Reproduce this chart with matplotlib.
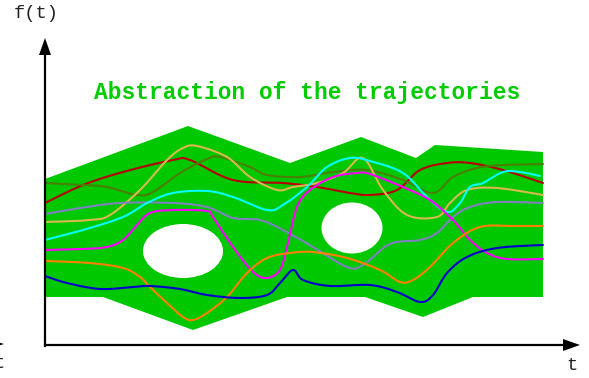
import numpy as np
import matplotlib
matplotlib.use("Agg")
import matplotlib.pyplot as plt
from matplotlib.patches import Polygon, Ellipse

# ---- data (pixel coordinates) ----
band_x = [45, 188, 290, 361, 416, 435, 543, 543, 473, 423, 365, 287, 193, 103, 45]
band_y = [179, 126, 163, 137, 158, 145, 152, 297, 297, 317, 297, 297, 330, 297, 297]

holes_cx = [183, 352]
holes_cy = [251, 228]
holes_w = [80, 61]
holes_h = [54, 51]

red_x = [45, 83, 123, 173, 190, 233, 283, 317, 350, 370, 397, 420, 447, 470, 503, 543]
red_y = [203, 185, 172, 160, 160, 180, 183, 187, 193, 195, 190, 170, 163, 163, 170, 183]

dgreen_x = [45, 83, 107, 137, 153, 180, 207, 220, 250, 267, 300, 333, 367, 403, 433, 453, 477, 503, 543]
dgreen_y = [183, 185, 187, 195, 192, 173, 159, 157, 167, 175, 177, 172, 170, 180, 193, 177, 168, 165, 164]

gold_x = [45, 90, 110, 140, 167, 183, 197, 227, 250, 277, 293, 317, 343, 363, 383, 407, 437, 450, 467, 497, 543]
gold_y = [222, 220, 215, 190, 160, 148, 146, 157, 177, 190, 187, 183, 173, 158, 190, 215, 217, 203, 190, 188, 195]

cyan_x = [45, 83, 123, 147, 173, 207, 233, 267, 283, 307, 327, 350, 370, 403, 427, 447, 460, 470, 483, 503, 520, 540]
cyan_y = [240, 230, 217, 203, 193, 191, 197, 210, 205, 187, 167, 158, 161, 173, 197, 212, 203, 187, 183, 172, 172, 176]

gray_x = [45, 80, 120, 173, 207, 233, 260, 283, 313, 347, 363, 390, 420, 437, 453, 470, 497, 543]
gray_y = [214, 208, 203, 203, 207, 218, 220, 230, 247, 267, 265, 244, 240, 233, 217, 207, 202, 203]

magenta_x = [45, 83, 107, 123, 137, 150, 173, 207, 213, 233, 253, 267, 280, 287, 297, 310, 333, 357, 370, 403, 430, 450, 460, 470, 487, 507, 543]
magenta_y = [250, 249, 247, 240, 225, 213, 210, 211, 217, 247, 272, 278, 270, 247, 207, 190, 177, 173, 174, 187, 200, 217, 228, 240, 253, 259, 259]

orange_x = [45, 90, 123, 140, 150, 167, 183, 193, 207, 227, 247, 267, 290, 313, 347, 380, 400, 413, 430, 453, 480, 513, 543]
orange_y = [261, 263, 268, 277, 287, 303, 317, 320, 313, 297, 273, 258, 253, 252, 258, 270, 282, 280, 267, 243, 227, 226, 226]

blue_x = [45, 67, 100, 133, 150, 180, 207, 240, 267, 280, 293, 303, 330, 370, 397, 420, 433, 447, 467, 497, 543]
blue_y = [276, 283, 289, 287, 286, 289, 295, 298, 295, 283, 270, 280, 286, 285, 292, 302, 295, 273, 257, 248, 245]

curves = [
    (red_x, red_y, "#b80000"),
    (dgreen_x, dgreen_y, "#4a7f00"),
    (gold_x, gold_y, "#d8b850"),
    (gray_x, gray_y, "#8080c0"),
    (cyan_x, cyan_y, "#00ffff"),
    (magenta_x, magenta_y, "#ff00ff"),
    (orange_x, orange_y, "#ff8000"),
    (blue_x, blue_y, "#0000cc"),
]

title = "Abstraction of the trajectories"
ylabel = "f(t)"
xlabel = "t"


def smooth(xs, ys, n=12):
    p = np.column_stack([xs, ys]).astype(float)
    p = np.vstack([p[0], p, p[-1]])
    out = []
    for i in range(1, len(p) - 2):
        p0, p1, p2, p3 = p[i - 1], p[i], p[i + 1], p[i + 2]
        t = np.linspace(0, 1, n, endpoint=False)[:, None]
        seg = 0.5 * ((2 * p1) + (-p0 + p2) * t + (2 * p0 - 5 * p1 + 4 * p2 - p3) * t ** 2
                     + (-p0 + 3 * p1 - 3 * p2 + p3) * t ** 3)
        out.append(seg)
    out.append(p[-2][None, :])
    out = np.vstack(out)
    return out[:, 0], out[:, 1]


fig = plt.figure(figsize=(5.89, 3.78), dpi=100)
ax = fig.add_axes([0, 0, 1, 1])
ax.set_xlim(0, 589)
ax.set_ylim(378, 0)
ax.axis("off")

green = "#00c800"
ax.add_patch(Polygon(np.column_stack([band_x, band_y]), closed=True,
                     facecolor=green, edgecolor="none", zorder=1))
for cx, cy, w, h in zip(holes_cx, holes_cy, holes_w, holes_h):
    ax.add_patch(Ellipse((cx, cy), w, h, facecolor="white", edgecolor="none", zorder=2))

for xs, ys, c in curves:
    sx, sy = smooth(xs, ys)
    ax.plot(sx, sy, color=c, lw=1.5, solid_capstyle="round", zorder=3)

# axes with arrows
ax.plot([45, 45], [346, 52], color="black", lw=1.6, zorder=4)
ax.add_patch(Polygon([[39, 55], [51, 55], [45, 38]], closed=True, facecolor="black",
                     edgecolor="none", zorder=5))
ax.plot([45, 566], [345, 345], color="black", lw=1.6, zorder=4)
ax.add_patch(Polygon([[563, 339], [563, 351], [580, 345]], closed=True, facecolor="black",
                     edgecolor="none", zorder=5))
# clipped fragment on left edge
ax.add_patch(Polygon([[-12, 339], [-12, 349], [4, 344]], closed=True, facecolor="black",
                     edgecolor="none", zorder=5, clip_on=False))

mono = "Liberation Mono"
ax.text(36, 14, ylabel, fontfamily=mono, fontsize=13.5, ha="center", va="center", color="#222222")
ax.text(572, 365, xlabel, fontfamily=mono, fontsize=13.5, ha="center", va="center", color="#222222")
ax.text(-1, 363, xlabel, fontfamily=mono, fontsize=13.5, ha="center", va="center", color="#222222")
ax.text(307, 99, title, fontfamily=mono, fontweight="bold", fontsize=16.5,
        ha="center", va="baseline", color="#00cc00")

fig.savefig("out.png", dpi=100)
